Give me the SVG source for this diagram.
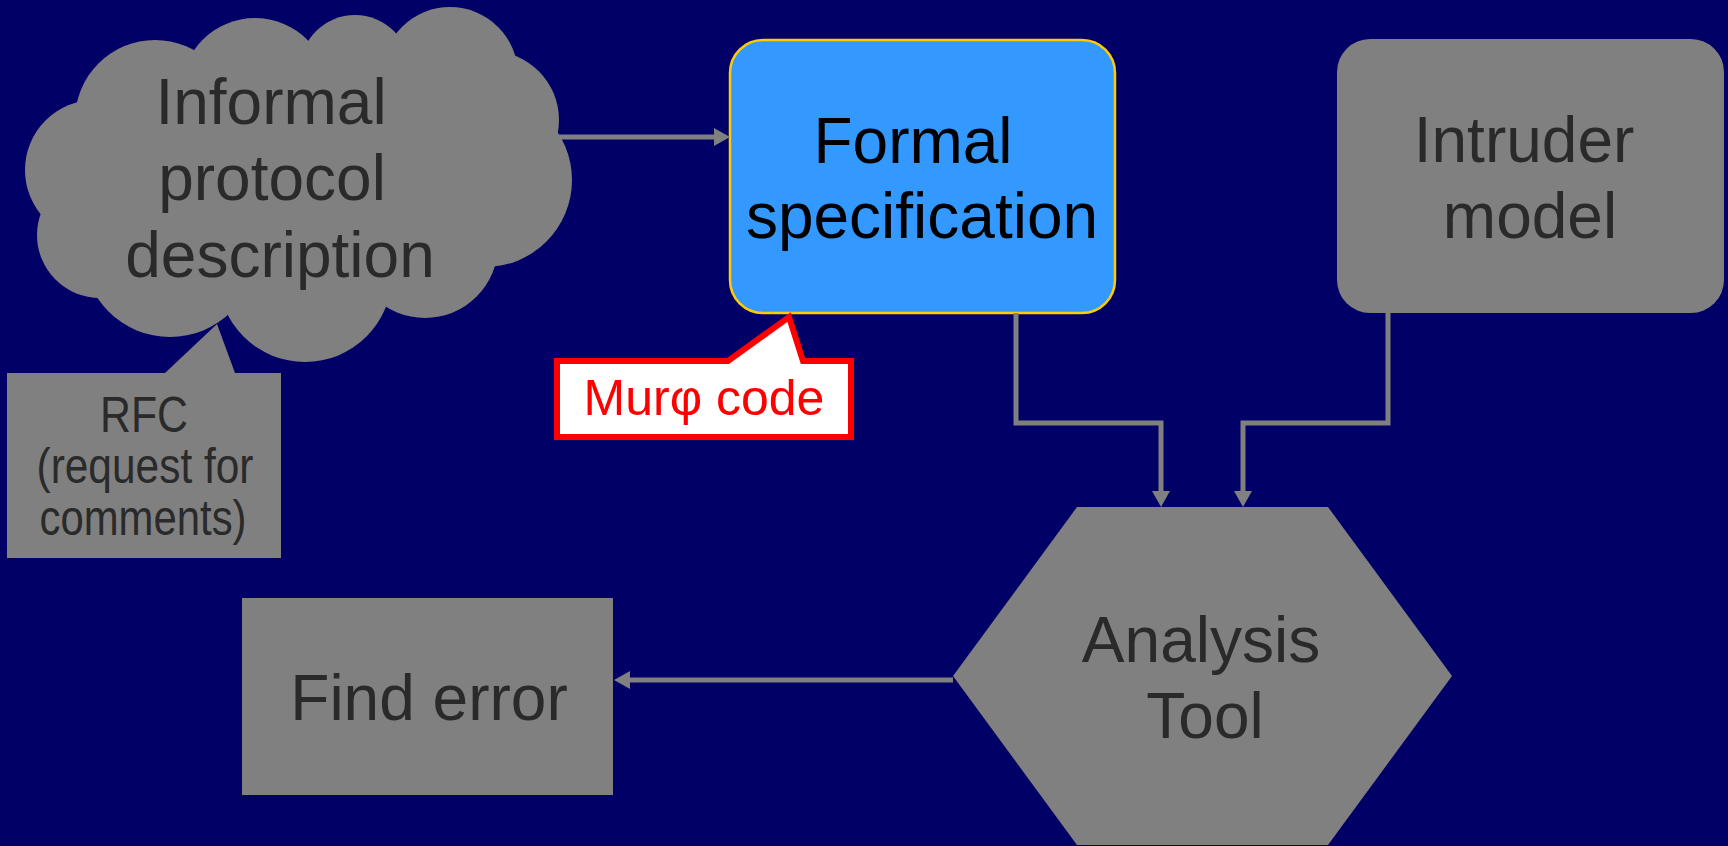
<svg xmlns="http://www.w3.org/2000/svg" width="1728" height="846" viewBox="0 0 1728 846">
<style>
.t{font-family:"Liberation Sans",Arial,sans-serif;font-size:64px;fill:#2a2a2a;text-anchor:middle}
.g{fill:#808080}
.c{fill:none;stroke:#808080;stroke-width:5;marker-end:url(#ah)}
</style>
<defs>
<marker id="ah" viewBox="0 0 16 18" refX="11" refY="9" markerWidth="16" markerHeight="18" markerUnits="userSpaceOnUse" orient="auto">
<path d="M0,0 L16,9 L0,18 Z" fill="#808080"/>
</marker>
</defs>
<rect width="1728" height="846" fill="#000066"/>
<g id="rfc">
<path class="g" d="M7,373 H165 L217,324 L235,373 H281 V558 H7 Z"/>
<text class="t" style="font-size:50px" x="144" y="432" textLength="88" lengthAdjust="spacingAndGlyphs">RFC</text>
<text class="t" style="font-size:50px" x="145" y="483" textLength="217" lengthAdjust="spacingAndGlyphs">(request for</text>
<text class="t" style="font-size:50px" x="143" y="535" textLength="207" lengthAdjust="spacingAndGlyphs">comments)</text>
</g>
<g id="cloud">
<g class="g">
<circle cx="155" cy="120" r="80"/>
<circle cx="255" cy="92" r="74"/>
<circle cx="355" cy="70" r="55"/>
<circle cx="450" cy="75" r="68"/>
<circle cx="490" cy="120" r="69"/>
<circle cx="485" cy="180" r="87"/>
<circle cx="425" cy="245" r="73"/>
<circle cx="305" cy="275" r="87"/>
<circle cx="170" cy="250" r="87"/>
<circle cx="100" cy="235" r="63"/>
<circle cx="95" cy="170" r="70"/>
<ellipse cx="300" cy="185" rx="210" ry="125"/>
</g>
<text class="t" x="271" y="124">Informal</text>
<text class="t" x="272" y="200">protocol</text>
<text class="t" x="280" y="277">description</text>
</g>
<g id="formal">
<rect x="730" y="40" width="385" height="273" rx="33" fill="#3399ff" stroke="#ffcc00" stroke-width="2.5"/>
<text class="t" style="fill:#000" x="913" y="163">Formal</text>
<text class="t" style="fill:#000" x="922" y="238">specification</text>
</g>
<g id="murphi">
<path d="M557,361 H728 L789,317 L803,361 H851 V437 H557 Z" fill="#ffffff" stroke="#ff0000" stroke-width="6"/>
<text class="t" style="font-size:50px;fill:#ff0000" x="704" y="415">Murφ code</text>
</g>
<g id="intruder">
<rect class="g" x="1337" y="39" width="387" height="274" rx="33"/>
<text class="t" x="1524" y="162">Intruder</text>
<text class="t" x="1530" y="238">model</text>
</g>
<g id="analysis">
<polygon class="g" points="1077,507 1328,507 1452,676 1328,845 1077,845 953,676"/>
<text class="t" x="1201" y="662">Analysis</text>
<text class="t" x="1205" y="738">Tool</text>
</g>
<g id="finderror">
<rect class="g" x="242" y="598" width="371" height="197"/>
<text class="t" x="429" y="720">Find error</text>
</g>
<g id="connectors">
<path class="c" d="M555,137 H725"/>
<path class="c" d="M1016,313 V423 H1161 V502"/>
<path class="c" d="M1388,313 V423 H1243 V502"/>
<path class="c" d="M953,680 H619"/>
</g>
</svg>
